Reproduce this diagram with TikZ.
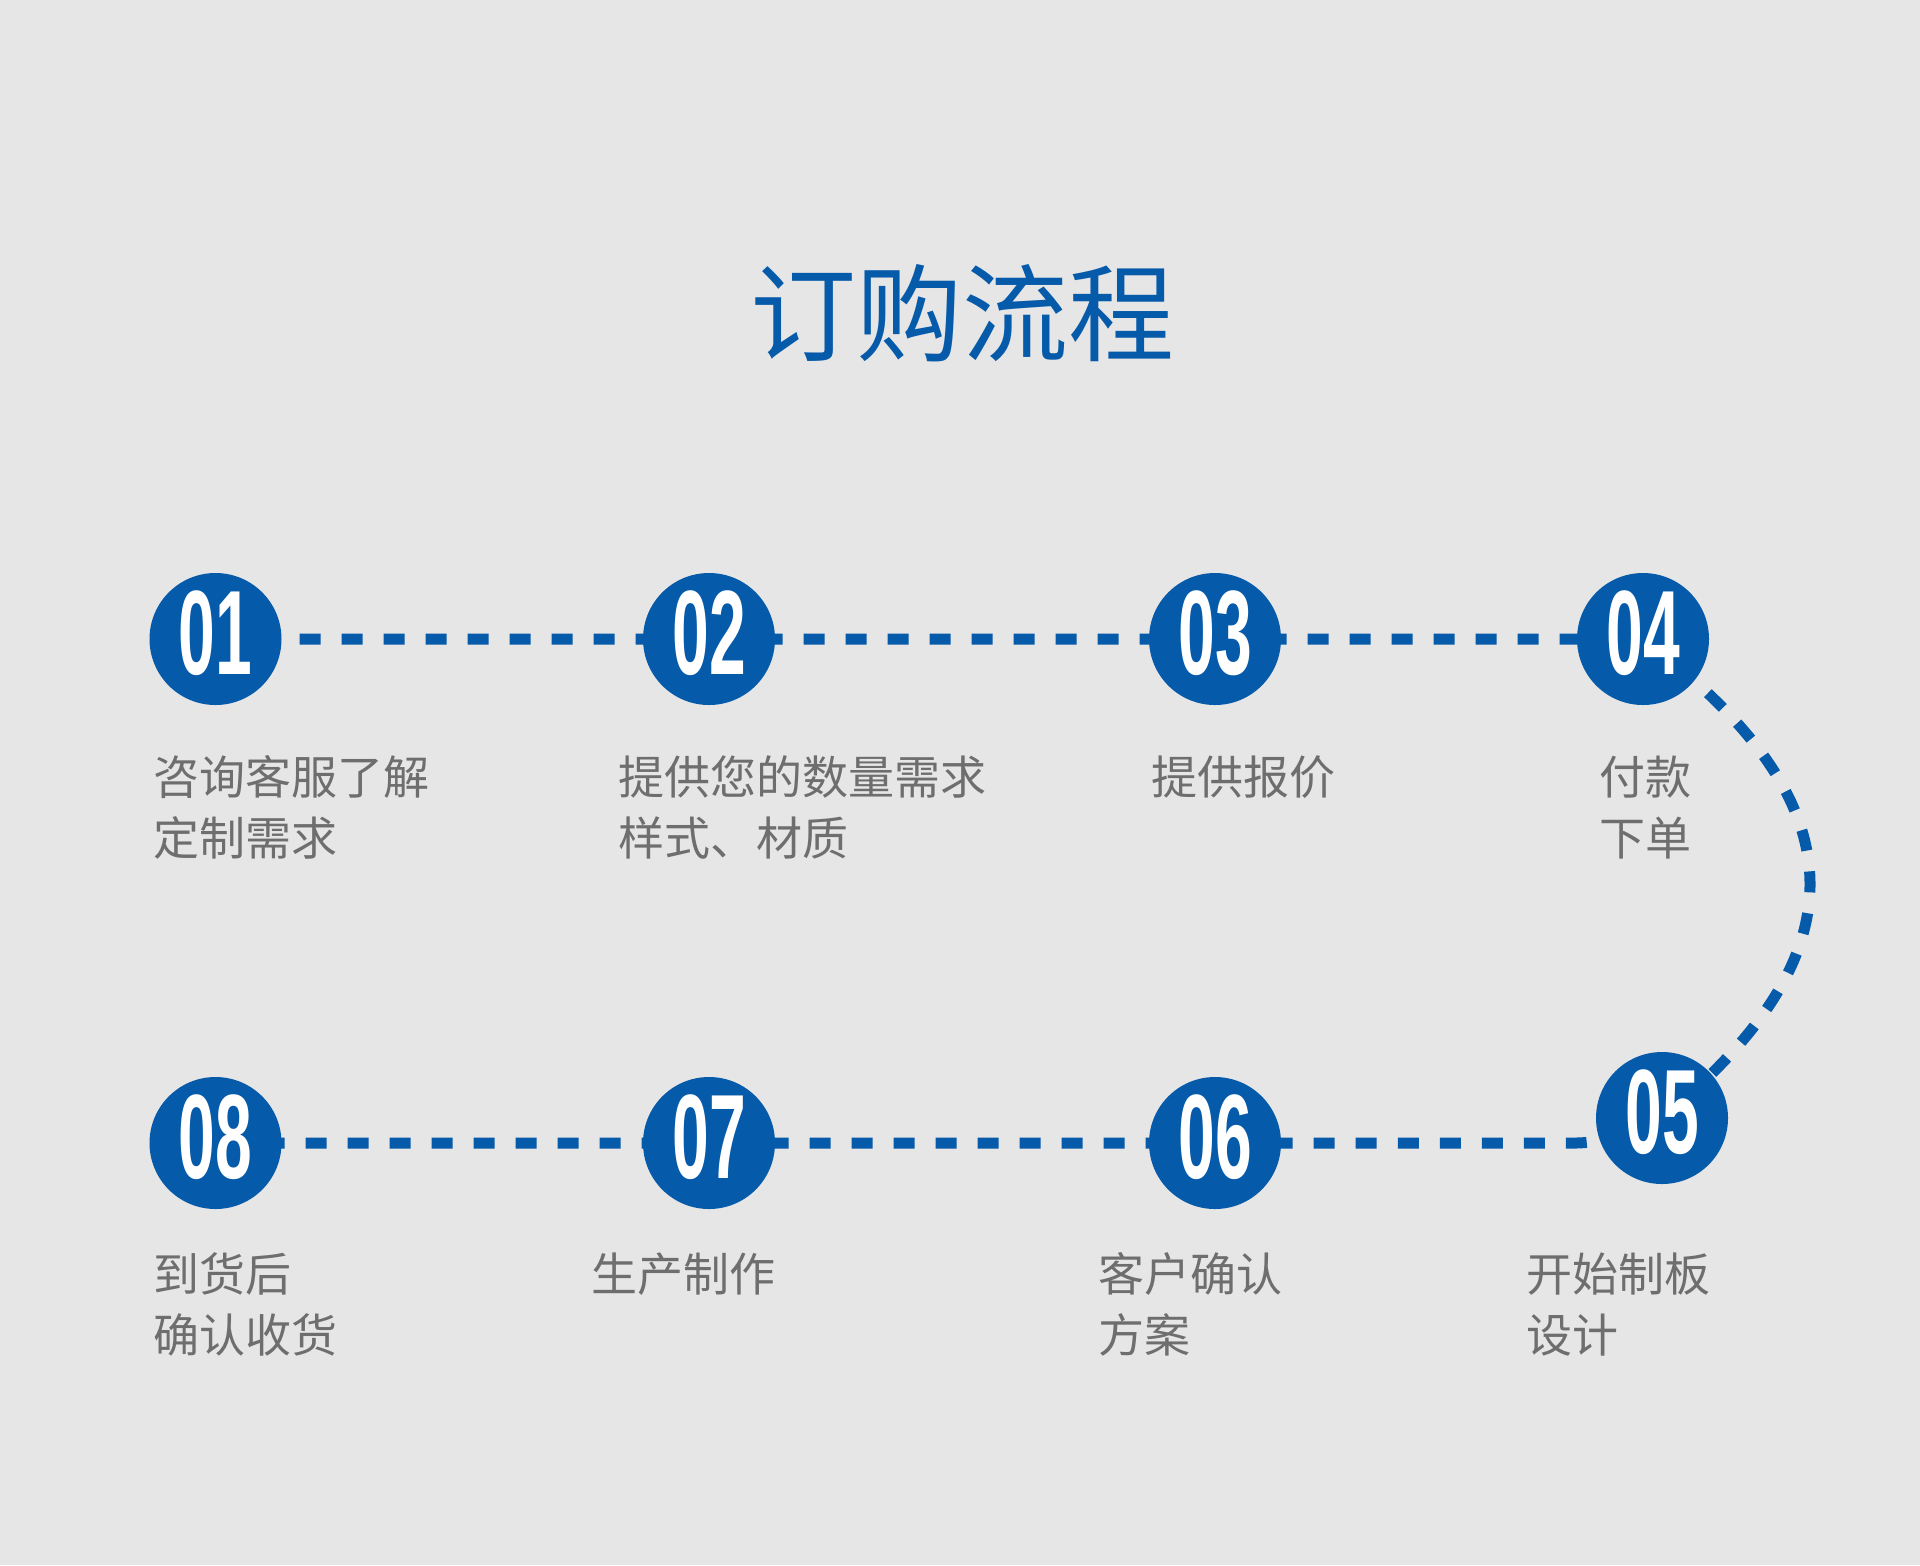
\documentclass[tikz,border=0pt]{standalone}
\usepackage{fontspec}
\setmainfont{Noto Sans CJK SC}
\newfontfamily\numfont{Liberation Sans}
\usetikzlibrary{backgrounds}
\definecolor{FlowBlue}{HTML}{065AAA}
\definecolor{FlowGray}{HTML}{6E6E6E}
\definecolor{FlowBack}{HTML}{E6E6E6}
\newcommand{\stepno}[1]{\raisebox{3pt}[\height][0pt]{\scalebox{.55}[1]{#1}}}

\begin{document}
\begin{tikzpicture}[x=.5pt,y=-.5pt,
  stepdot/.style={circle,fill=FlowBlue,minimum size=66pt,inner sep=0,text=white,
    font=\numfont\bfseries\fontsize{60}{60}\selectfont},
  steptext/.style={anchor=north west,align=left,inner sep=0,text=FlowGray,
    font=\fontsize{23}{30.5}\selectfont},
  flowline/.style={FlowBlue,line width=5.5pt,dash pattern=on 10.5pt off 10.5pt}]
\useasboundingbox (0,0) rectangle (1920,1565);
\node[text=FlowBlue,font=\fontsize{53}{53}\selectfont] (title) at (962,313) {订购流程};
\node[stepdot] (n1) at (215.5,639) {\stepno{01}};
\node[stepdot] (n2) at (709,639) {\stepno{02}};
\node[stepdot] (n3) at (1215,639) {\stepno{03}};
\node[stepdot] (n4) at (1643,639) {\stepno{04}};
\node[stepdot] (n5) at (1662,1118) {\stepno{05}};
\node[stepdot] (n6) at (1215,1143) {\stepno{06}};
\node[stepdot] (n7) at (709,1143) {\stepno{07}};
\node[stepdot] (n8) at (215.5,1143) {\stepno{08}};
\coordinate (bend) at (1575,1143);
\node[steptext] (l1) at (153,755) {咨询客服了解\\定制需求};
\node[steptext] (l2) at (618,755) {提供您的数量需求\\样式、材质};
\node[steptext] (l3) at (1151,755) {提供报价};
\node[steptext] (l4) at (1599,755) {付款\\下单};
\node[steptext] (l5) at (1526,1252) {开始制板\\设计};
\node[steptext] (l6) at (1098,1252) {客户确认\\方案};
\node[steptext] (l7) at (591,1252) {生产制作};
\node[steptext] (l8) at (153,1252) {到货后\\确认收货};
\begin{scope}[on background layer]
\fill[FlowBack] (0,0) rectangle (1920,1565);
\draw[flowline] (n1.center)--(n2.center)--(n3.center)--(n4.center)
  .. controls (1870,809) and (1855,960) .. (n5.center)
  to[out=195,in=0] (bend)--(n6.center)--(n7.center)--(n8.center);
\end{scope}
\end{tikzpicture}
\end{document}
